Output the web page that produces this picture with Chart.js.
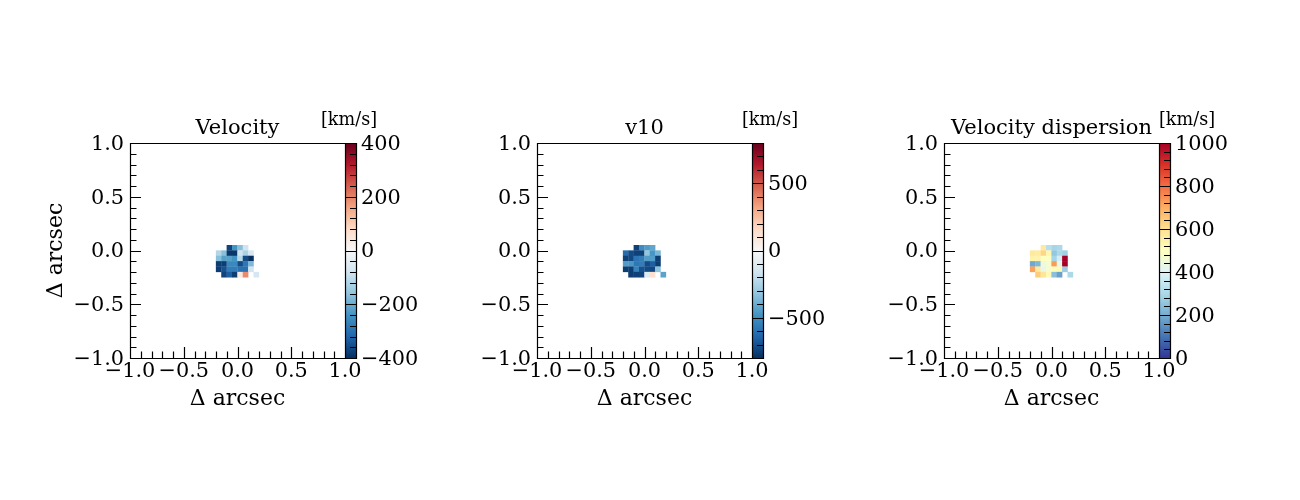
<!DOCTYPE html>
<html>
<head>
<meta charset="utf-8">
<script src="https://cdn.jsdelivr.net/npm/chart.js@4"></script>
<style>
    html, body { margin: 0; background: #fff; }
    #page { position: relative; width: 1300px; height: 500px; overflow: hidden; }
    canvas { position: absolute; }
    .unit { position: absolute; top: 108px; font: 17.6px 'DejaVu Serif'; line-height: 22px; color: #000; white-space: nowrap; }
</style>
</head>
<body>
<div id="page"></div>
<script>
// 像素中心坐标 (arcsec)
const xCenters = [-0.175, -0.125, -0.075, -0.025, 0.025, 0.075, 0.125, 0.175];
const yCenters = [0.025, -0.025, -0.075, -0.125, -0.175, -0.225];

const velocity = [
    [null, null, -370, -240, -170, -80, null, null],
    [-120, -170, -390, -390, -80, -130, -70, null],
    [-170, -220, -220, -240, -110, -360, -400, null],
    [-380, -380, -260, -260, -360, -290, -180, null],
    [-380, -350, -280, -280, -300, -300, -80, null],
    [null, -370, -330, -380, 40, 190, null, -70]
];
const v10 = [
    [null, null, -750, -500, -450, -420, null, null],
    [-620, -720, -750, -750, -320, -470, -370, null],
    [-750, -730, -590, -560, -450, -450, -760, null],
    [-450, -470, -580, -560, -720, -660, -760, null],
    [-760, -760, -540, -700, -720, -730, -330, null],
    [null, -760, -750, -740, -110, 130, null, -430]
];
const dispersion = [
    [null, null, 570, 320, 290, 300, null, null],
    [570, 560, 620, 530, 260, 300, 280, null],
    [540, 540, 500, 490, 290, 380, 1000, null],
    [190, 220, 450, 470, 730, 430, 1000, null],
    [720, 570, 430, 470, 510, 520, 270, null],
    [null, 640, 580, 520, 240, 180, null, 300]
];

// 坐标轴刻度
const axisMajor = [-1, -0.5, 0, 0.5, 1];
const axisMinor = [-0.9, -0.8, -0.7, -0.6, -0.4, -0.3, -0.2, -0.1, 0.1, 0.2, 0.3, 0.4, 0.6, 0.7, 0.8, 0.9];

// 色标刻度
const velocityMajor = [-400, -200, 0, 200, 400];
const velocityMinor = [-360, -320, -280, -240, -160, -120, -80, -40, 40, 80, 120, 160, 240, 280, 320, 360];
const v10Major = [-500, 0, 500];
const v10Minor = [-700, -600, -400, -300, -200, -100, 100, 200, 300, 400, 600, 700];
const dispersionMajor = [0, 200, 400, 600, 800, 1000];
const dispersionMinor = [40, 80, 120, 160, 240, 280, 320, 360, 440, 480, 520, 560, 640, 680, 720, 760, 840, 880, 920, 960];

// 色图
const rdBu = ['#053061', '#2166ac', '#4393c3', '#92c5de', '#d1e5f0', '#f7f7f7', '#fddbc7', '#f4a582', '#d6604d', '#b2182b', '#67001f'];
const rdYlBu = ['#313695', '#4575b4', '#74add1', '#abd9e9', '#e0f3f8', '#ffffbf', '#fee090', '#fdae61', '#f46d43', '#d73027', '#a50026'];

Chart.defaults.font.family = "'DejaVu Serif'";
Chart.defaults.color = '#000';
Chart.defaults.animation = false;

const TICK_FONT = 20.83;
const LABEL_FONT = 22;
const PLOT_SIZE = 215;
const CANVAS_TOP = 90;
const CANVAS_HEIGHT = 330;
const PLOT_TOP = 143;
const page = document.getElementById('page');

function crisp(v) {
    return Math.round(v) + 0.5;
}

function colorAt(stops, t) {
    const pos = Math.min(Math.max(t, 0), 1) * (stops.length - 1);
    const i = Math.min(Math.floor(pos), stops.length - 2);
    const f = pos - i;
    const a = stops[i], b = stops[i + 1];
    const mix = (s) => Math.round(parseInt(a.substr(s, 2), 16) * (1 - f) + parseInt(b.substr(s, 2), 16) * f);
    return 'rgb(' + mix(1) + ',' + mix(3) + ',' + mix(5) + ')';
}

function addCanvas(left, width) {
    const canvas = document.createElement('canvas');
    canvas.width = width;
    canvas.height = CANVAS_HEIGHT;
    canvas.style.left = left + 'px';
    canvas.style.top = CANVAS_TOP + 'px';
    canvas.style.width = width + 'px';
    canvas.style.height = CANVAS_HEIGHT + 'px';
    page.appendChild(canvas);
    return canvas;
}

// y 轴数字整体下移一点，和刻度对齐
const nudgeLabels = {
    id: 'nudgeLabels',
    afterLayout(chart) {
        chart.scales.y.getLabelItems(chart.chartArea).forEach((item) => {
            item.options.translation[1] += 1.5;
        });
    }
};

// Chart.js 没有朝内的刻度，这里自己画
const axisFrame = {
    id: 'axisFrame',
    afterDraw(chart) {
        const { ctx, chartArea: a, scales } = chart;
        ctx.save();
        ctx.strokeStyle = '#000';
        ctx.lineWidth = 1.2;
        ctx.beginPath();
        const mark = (list, len) => list.forEach((v) => {
            const x = crisp(scales.x.getPixelForValue(v));
            const y = crisp(scales.y.getPixelForValue(v));
            ctx.moveTo(x, a.bottom);
            ctx.lineTo(x, a.bottom - len);
            ctx.moveTo(a.left, y);
            ctx.lineTo(a.left + len, y);
        });
        mark(axisMajor, 11);
        mark(axisMinor, 6.5);
        ctx.rect(crisp(a.left), crisp(a.top), a.right - a.left, a.bottom - a.top);
        ctx.stroke();
        ctx.restore();
    }
};

const barFrame = {
    id: 'barFrame',
    afterDraw(chart) {
        const { ctx, chartArea: a, scales } = chart;
        const opts = chart.options.plugins.barFrame;
        ctx.save();
        ctx.strokeStyle = '#000';
        ctx.lineWidth = 1.2;
        ctx.beginPath();
        const mark = (list, len) => list.forEach((v) => {
            const y = crisp(scales.y.getPixelForValue(v));
            ctx.moveTo(a.right, y);
            ctx.lineTo(a.right - len, y);
        });
        mark(opts.major, 11);
        mark(opts.minor, 6);
        ctx.rect(crisp(a.left), crisp(a.top), a.right - a.left, a.bottom - a.top);
        ctx.stroke();
        ctx.restore();
    }
};

function drawMap(cfg) {
    const points = [];
    const colors = [];
    cfg.values.forEach((row, r) => row.forEach((val, c) => {
        if (val === null) return;
        points.push({ x: xCenters[c], y: yCenters[r] });
        colors.push(colorAt(cfg.stops, (val - cfg.min) / (cfg.max - cfg.min)));
    }));

    const fmt = (v) => Number(v).toFixed(1).replace('-', '\u2212');
    new Chart(addCanvas(cfg.left - 100, 100 + PLOT_SIZE + 30), {
        type: 'scatter',
        data: { datasets: [{ data: points, backgroundColor: colors, pointStyle: 'rect', pointRadius: 4, borderWidth: 0 }] },
        options: {
            responsive: false,
            devicePixelRatio: 1,
            layout: { padding: { top: 26, right: 30 } },
            plugins: {
                legend: { display: false },
                tooltip: { enabled: false },
                title: { display: true, fullSize: false, text: cfg.title, font: { size: 21, weight: 'normal', lineHeight: 1.2 }, padding: { top: 0, bottom: 1.8 } }
            },
            scales: {
                x: {
                    type: 'linear', min: -1, max: 1,
                    grid: { display: false, drawTicks: false }, border: { display: false },
                    afterBuildTicks(axis) { axis.ticks = axisMajor.map((value) => ({ value })); },
                    afterFit(axis) { axis.height = CANVAS_TOP + CANVAS_HEIGHT - PLOT_TOP - PLOT_SIZE; },
                    ticks: { autoSkip: false, maxRotation: 0, padding: 1.5, font: { size: TICK_FONT }, callback: fmt },
                    title: { display: true, text: '\u0394 arcsec', font: { size: LABEL_FONT }, padding: { top: 0, bottom: 8 } }
                },
                y: {
                    type: 'linear', min: -1, max: 1,
                    grid: { display: false, drawTicks: false }, border: { display: false },
                    afterBuildTicks(axis) { axis.ticks = axisMajor.map((value) => ({ value })); },
                    afterFit(axis) { axis.width = 100; },
                    ticks: { autoSkip: false, padding: 6, font: { size: TICK_FONT }, callback: fmt },
                    title: { display: cfg.showYLabel, text: '\u0394 arcsec', font: { size: LABEL_FONT }, padding: { top: 13, bottom: 13 } }
                }
            }
        },
        plugins: [axisFrame, nudgeLabels]
    });

    new Chart(addCanvas(cfg.left + PLOT_SIZE, 11 + 80), {
        type: 'bar',
        data: {
            labels: [''],
            datasets: [{
                data: [[cfg.min, cfg.max]],
                barPercentage: 1,
                categoryPercentage: 1,
                backgroundColor(context) {
                    const a = context.chart.chartArea;
                    if (!a) return cfg.stops[0];
                    const g = context.chart.ctx.createLinearGradient(0, a.bottom, 0, a.top);
                    cfg.stops.forEach((s, i) => g.addColorStop(i / (cfg.stops.length - 1), s));
                    return g;
                }
            }]
        },
        options: {
            responsive: false,
            devicePixelRatio: 1,
            layout: { padding: { top: PLOT_TOP - CANVAS_TOP, bottom: CANVAS_TOP + CANVAS_HEIGHT - PLOT_TOP - PLOT_SIZE } },
            plugins: {
                legend: { display: false },
                tooltip: { enabled: false },
                barFrame: { major: cfg.major, minor: cfg.minor }
            },
            scales: {
                x: { display: false },
                y: {
                    position: 'right', min: cfg.min, max: cfg.max,
                    grid: { display: false, drawTicks: false }, border: { display: false },
                    afterBuildTicks(axis) { axis.ticks = cfg.major.map((value) => ({ value })); },
                    afterFit(axis) { axis.width = 80; },
                    ticks: { autoSkip: false, padding: 5, font: { size: TICK_FONT }, callback: (v) => String(v).replace('-', '\u2212') }
                }
            }
        },
        plugins: [barFrame, nudgeLabels]
    });

    const unit = document.createElement('div');
    unit.className = 'unit';
    unit.style.left = cfg.unitLeft + 'px';
    unit.textContent = '[km/s]';
    page.appendChild(unit);
}

drawMap({ left: 130, title: 'Velocity', values: velocity, stops: rdBu, min: -400, max: 400, major: velocityMajor, minor: velocityMinor, unitLeft: 321, showYLabel: true });
drawMap({ left: 537, title: 'v10', values: v10, stops: rdBu, min: -800, max: 800, major: v10Major, minor: v10Minor, unitLeft: 742, showYLabel: false });
drawMap({ left: 944, title: 'Velocity dispersion', values: dispersion, stops: rdYlBu, min: 0, max: 1000, major: dispersionMajor, minor: dispersionMinor, unitLeft: 1159, showYLabel: false });
</script>
</body>
</html>
